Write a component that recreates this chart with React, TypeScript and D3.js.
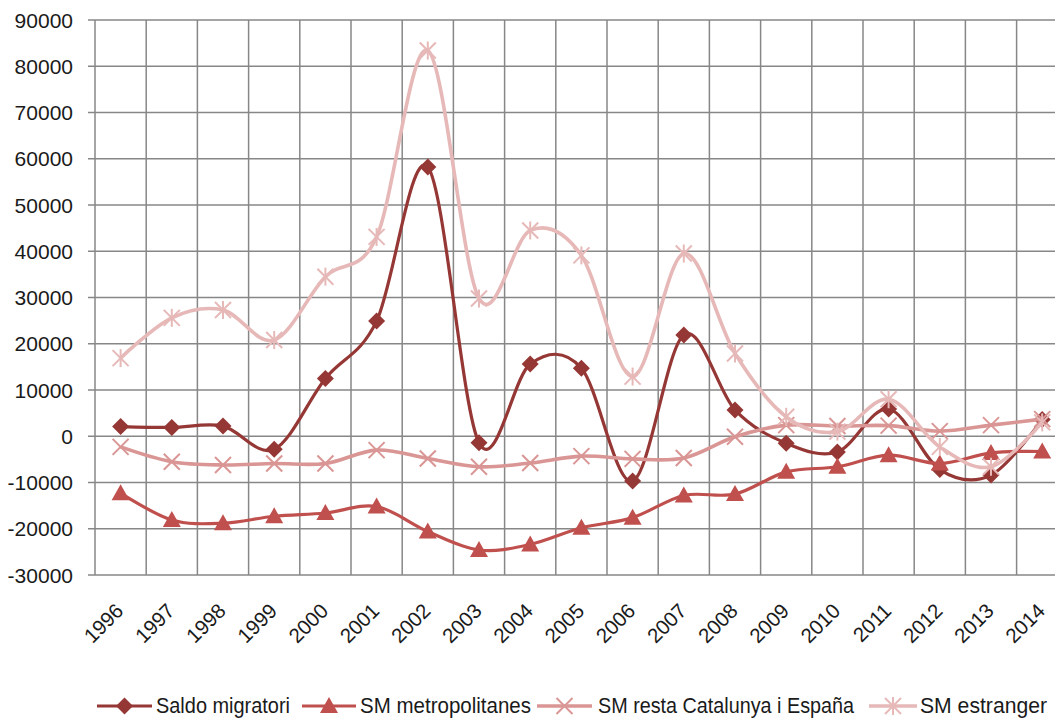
import React from "react";
import * as d3 from "d3";

const years = ["1996","1997","1998","1999","2000","2001","2002","2003","2004","2005","2006","2007","2008","2009","2010","2011","2012","2013","2014"];
const saldoMigratori = [2100, 1900, 2200, -2800, 12500, 24900, 58200, -1400, 15600, 14700, -9700, 21900, 5700, -1500, -3400, 5900, -7200, -8400, 3600];
const smMetropolitanes = [-12300, -18100, -18800, -17300, -16600, -15200, -20600, -24600, -23400, -19800, -17600, -12800, -12500, -7700, -6600, -4100, -5900, -3600, -3300];
const smResta = [-2300, -5500, -6200, -5900, -5900, -3000, -4800, -6600, -5800, -4300, -4900, -4700, -100, 2400, 2200, 2300, 1100, 2400, 3700];
const smEstranger = [16900, 25600, 27300, 20800, 34500, 43100, 83400, 29800, 44500, 39100, 12900, 39500, 17900, 4200, 1000, 8000, -2300, -6600, 3000];
const yTicks = [90000, 80000, 70000, 60000, 50000, 40000, 30000, 20000, 10000, 0, -10000, -20000, -30000];
const seriesNames = ["Saldo migratori", "SM metropolitanes", "SM resta Catalunya i España", "SM estranger"];

const W = 1055, H = 719;
const LEFT = 95, BAND = 51.2, TOP = 20, BOTTOM = 575;

const colors = ["#953735", "#c0504d", "#d99694", "#e6b9b8"];
const widths = [3.2, 3.2, 3.6, 3.6];
const markers = ["diamond", "triangle", "x", "star"];

function Marker({ type, x, y, color }: { type: string; x: number; y: number; color: string }) {
  if (type === "diamond") {
    const r = 8.5;
    return <path d={`M${x},${y - r}L${x + r},${y}L${x},${y + r}L${x - r},${y}Z`} fill={color} />;
  }
  if (type === "triangle") {
    return <path d={`M${x},${y - 9}L${x + 9},${y + 7}L${x - 9},${y + 7}Z`} fill={color} />;
  }
  if (type === "x") {
    const r = 8;
    return (
      <g stroke={color} strokeWidth={2}>
        <line x1={x - r} y1={y - r} x2={x + r} y2={y + r} />
        <line x1={x - r} y1={y + r} x2={x + r} y2={y - r} />
      </g>
    );
  }
  const r = 8;
  return (
    <g stroke={color} strokeWidth={2}>
      <line x1={x - r} y1={y - r} x2={x + r} y2={y + r} />
      <line x1={x - r} y1={y + r} x2={x + r} y2={y - r} />
      <line x1={x} y1={y - r - 1} x2={x} y2={y + r + 1} />
    </g>
  );
}

export default function App() {
  const x = d3.scaleBand<string>().domain(years).range([LEFT, LEFT + BAND * years.length]).padding(0);
  const y = d3.scaleLinear().domain([-30000, 90000]).range([BOTTOM, TOP]);
  const cx = (yr: string) => (x(yr) as number) + x.bandwidth() / 2;
  const line = d3
    .line<number>()
    .x((_, i) => cx(years[i]))
    .y((d) => y(d))
    .curve(d3.curveCatmullRom.alpha(0));
  const data = [saldoMigratori, smMetropolitanes, smResta, smEstranger];

  const legendLineX1 = [97, 302, 537, 869];
  const legendLineX2 = [152, 356, 592, 917];
  const legendTextX = [156, 360, 598, 920];
  const legendTextLen = [134, 171, 256, 127];
  const legendY = 706;

  return (
    <svg width={W} height={H} style={{ position: "absolute", left: 0, top: 0, display: "block" }} fontFamily="'Liberation Sans', Arial, sans-serif">
      <rect width={W} height={H} fill="#ffffff" />
      {yTicks.map((t) => (
        <line key={"h" + t} x1={LEFT - 7} x2={LEFT + BAND * years.length} y1={y(t)} y2={y(t)} stroke="#878787" strokeWidth={1.5} />
      ))}
      {d3.range(years.length + 1).map((k) => (
        <line key={"v" + k} x1={LEFT + k * BAND} x2={LEFT + k * BAND} y1={TOP} y2={BOTTOM} stroke="#878787" strokeWidth={1.5} />
      ))}
      {yTicks.map((t) => (
        <text key={"yl" + t} x={73} y={y(t)} dy="0.36em" textAnchor="end" fontSize={21} fill="#1a1a1a">
          {t}
        </text>
      ))}
      {years.map((yr) => (
        <text key={"xl" + yr} transform={`translate(${cx(yr) - 1},${607}) rotate(-45)`} dy="0.35em" textAnchor="end" fontSize={20.5} fill="#1a1a1a">
          {yr}
        </text>
      ))}
      {data.map((vals, si) => (
        <g key={"s" + si}>
          <path d={line(vals) || ""} fill="none" stroke={colors[si]} strokeWidth={widths[si]} strokeLinejoin="round" />
          {vals.map((v, i) => (
            <Marker key={i} type={markers[si]} x={cx(years[i])} y={y(v)} color={colors[si]} />
          ))}
        </g>
      ))}
      {seriesNames.map((name, si) => (
        <g key={"lg" + si}>
          <line x1={legendLineX1[si]} x2={legendLineX2[si]} y1={legendY} y2={legendY} stroke={colors[si]} strokeWidth={widths[si]} />
          <Marker type={markers[si]} x={(legendLineX1[si] + legendLineX2[si]) / 2} y={legendY} color={colors[si]} />
          <text
            x={legendTextX[si]}
            y={legendY - 1}
            dy="0.35em"
            fontSize={22.5}
            fill="#1a1a1a"
            fontFamily="'Liberation Sans Narrow', 'Arial Narrow', 'Liberation Sans', sans-serif"
            textLength={legendTextLen[si]}
            lengthAdjust="spacingAndGlyphs"
          >
            {name}
          </text>
        </g>
      ))}
    </svg>
  );
}
